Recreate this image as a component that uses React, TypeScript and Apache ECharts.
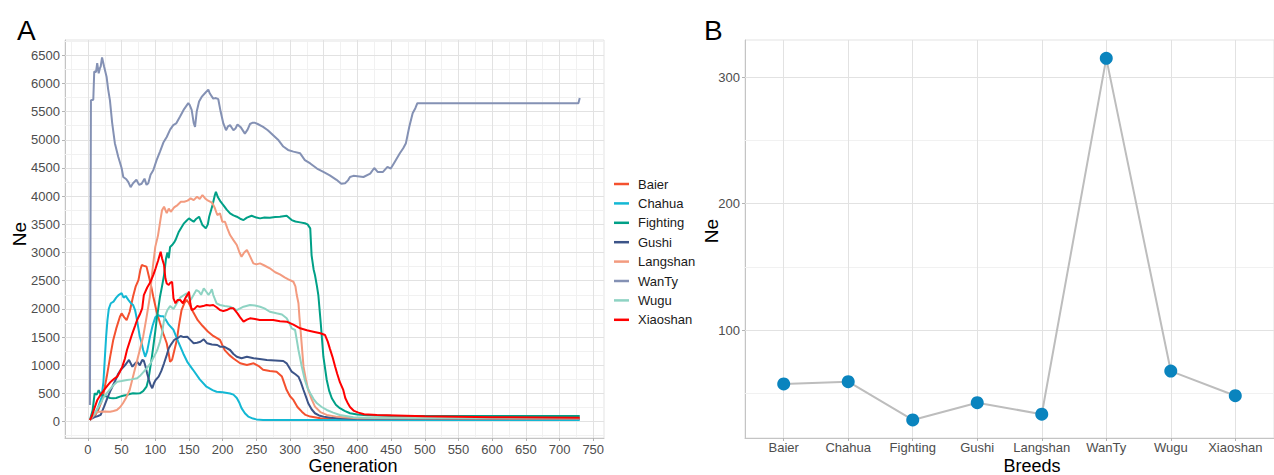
import React, { useEffect, useRef } from "react";
import * as echarts from "echarts";

const FONT = "'Liberation Sans', Arial, sans-serif";

const breeds = ["Baier", "Chahua", "Fighting", "Gushi", "Langshan", "WanTy", "Wugu", "Xiaoshan"];
const breedColors = ["#F4512F", "#13B8D4", "#00A087", "#3C5488", "#F39B7F", "#8491B4", "#8ED3C3", "#FF0000"];

const genTicks = [0, 50, 100, 150, 200, 250, 300, 350, 400, 450, 500, 550, 600, 650, 700, 750];
const genMinor = [-25, 25, 75, 125, 175, 225, 275, 325, 375, 425, 475, 525, 575, 625, 675, 725];
const neTicks = [0, 500, 1000, 1500, 2000, 2500, 3000, 3500, 4000, 4500, 5000, 5500, 6000, 6500];
const neMinor = [-250, 250, 750, 1250, 1750, 2250, 2750, 3250, 3750, 4250, 4750, 5250, 5750, 6250, 6750];

const breedNe = [57.4, 59.2, 29.0, 42.6, 33.5, 314.8, 67.6, 48.1];
const breedIdx = [0, 1, 2, 3, 4, 5, 6, 7];
const breedNeTicks = [100, 200, 300];
const breedNeMinor = [50, 150, 250];

const baier = [[3,30],[10,100],[15,200],[20,350],[24,550],[28,800],[33,1150],[37.6,1450],[42,1650],[47.5,1860],[50,1920],[54,1850],[57.5,1800],[62,1950],[67,2220],[71,2400],[75,2510],[78,2700],[80,2780],[84,2760],[87,2750],[90,2600],[93,2450],[97,2220],[102,1950],[107,1750],[112,1560],[117,1390],[120,1200],[122,1060],[125,1100],[128,1250],[132,1450],[135,1700],[139,1980],[143,2100],[146.6,2160],[150,2100],[156,1950],[163,1800],[170,1700],[178,1600],[186,1520],[196,1450],[203,1270],[210,1180],[216,1120],[226,1035],[236,1005],[246,1035],[253,990],[260,920],[270,900],[280,887],[288,800],[295,560],[300,450],[305,385],[311,260],[317.5,177],[323,120],[330,90],[345,60],[360,50],[730,50]];

const chahua = [[3,30],[10,120],[15,250],[20,420],[23,700],[25,1100],[27,1500],[29,1800],[31,2000],[34,2100],[38,2130],[42,2200],[46,2250],[50,2280],[53,2200],[56,2230],[60,2160],[64,2100],[67,2070],[70,1980],[72,1860],[75,1650],[77,1510],[80,1380],[82,1270],[85,1150],[88,1250],[92,1500],[96,1700],[100,1850],[104,1890],[108,1870],[112,1870],[116,1800],[120,1720],[127,1630],[134,1420],[141.5,1210],[148,1050],[156,920],[166,750],[176,620],[185,560],[191,530],[200,520],[211,500],[216,480],[221,420],[225,330],[228,240],[233,150],[238,90],[245,55],[250,40],[260,30],[730,30]];

const fighting = [[3,30],[7,200],[10,500],[13,480],[16,560],[19,480],[22,470],[28,444],[33,420],[37.6,415],[42,420],[47.5,444],[52,460],[57.5,473],[62,490],[67,503],[72,500],[77,503],[82,540],[87,621],[90,760],[92,917],[95,1150],[97,1330],[100,1600],[102,1803],[105,2050],[107,2216],[110,2400],[113,2600],[116,2900],[118,3000],[120,2900],[122,3100],[125,3133],[128,3180],[130,3222],[135,3369],[139,3450],[142.6,3518],[146,3560],[150,3606],[153,3580],[157,3546],[161,3600],[165,3635],[170,3488],[175,3429],[178,3500],[180,3635],[183,3760],[185,3842],[188,4000],[190,4078],[193,3980],[197,3901],[201,3842],[206,3760],[211,3695],[216,3660],[221,3635],[226,3600],[231,3576],[236,3620],[243,3652],[250,3620],[255.5,3606],[262,3620],[270,3617],[278,3630],[285,3635],[295,3652],[302.5,3576],[308,3550],[315,3535],[322,3520],[326,3500],[330,3429],[332,2950],[335,2700],[337,2601],[340,2400],[342,2246],[345.6,1745],[349.5,1152],[354.5,739],[358,550],[362,415],[368,300],[374,238],[381,190],[389,149],[400,125],[414,115],[450,105],[730,100]];

const gushi = [[3,40],[10,80],[15,100],[19,119],[24,266],[29,420],[34,562],[41,739],[45,850],[48.5,917],[55,1000],[61,1094],[66,975],[70,1030],[73,1064],[77,1000],[80.6,1094],[83,1080],[85.6,975],[88,850],[90.6,739],[93,650],[95.5,592],[98,680],[100.5,739],[105,798],[109,900],[113,1035],[117,1180],[120,1301],[124,1380],[128,1449],[133,1480],[137.6,1520],[142,1500],[147.5,1507],[152,1450],[157,1390],[162,1400],[167,1418],[172,1461],[177,1390],[184,1370],[192,1360],[196,1330],[202,1330],[211,1271],[216,1200],[221,1152],[228,1124],[236,1152],[246,1124],[255,1110],[265.5,1094],[278,1085],[290,1076],[295,1035],[302.5,887],[308,840],[312.5,798],[316,700],[320,562],[324,430],[327,326],[332,220],[337,149],[343,110],[349.5,89],[360,70],[374,60],[400,50],[730,45]];

const langshan = [[3,30],[8,100],[13,170],[18,177],[25,180],[33,177],[38,190],[43,207],[48,260],[52,326],[57,430],[62,562],[67,800],[72,1035],[77,1270],[82,1507],[87,1850],[92,2216],[95,2600],[97,2808],[100,3100],[104,3300],[108,3606],[110,3750],[113,3812],[117,3700],[120,3780],[123,3723],[128,3800],[133,3842],[138,3900],[143,3901],[148,3920],[152.5,3961],[157,3930],[162,3990],[166,3950],[170,4020],[174,3960],[177,3931],[182,3900],[185,3872],[188,3800],[192,3665],[196,3695],[199.5,3546],[203.5,3546],[207,3430],[211,3310],[216,3220],[221,3133],[225,3000],[228,2926],[232,3000],[236,3044],[240,2950],[245.5,2808],[250,2790],[255.5,2808],[262,2770],[270,2720],[278,2650],[285,2613],[292,2560],[297.5,2525],[305,2482],[308,2400],[310,2246],[312.5,2100],[314,1850],[316,1567],[320,975],[324,720],[327,562],[332,400],[337,266],[345,170],[354.5,119],[370,85],[379,78],[400,60],[730,55]];

const wanty = [[3,296],[4.5,5700],[8,5710],[9.4,6210],[12,6200],[13.8,6360],[16,6180],[17.8,6270],[19,6300],[21,6460],[24,6300],[27.7,6120],[30,5900],[32.7,5700],[36,5300],[40,4940],[45,4700],[50,4500],[52.5,4340],[57,4300],[60,4250],[63.4,4160],[67,4230],[72,4290],[76,4200],[79.7,4220],[84,4310],[87,4200],[89.6,4230],[93,4380],[97,4460],[102,4640],[107,4790],[112,4950],[117,5050],[122,5180],[126.7,5260],[131,5290],[136.6,5410],[142,5530],[149,5650],[151,5620],[154,5530],[157,5300],[159,5230],[161.5,5500],[165,5680],[168.8,5760],[174,5830],[178.7,5890],[181,5820],[186,5730],[190,5740],[193.5,5720],[197,5500],[201,5290],[205,5170],[208,5240],[211,5260],[216,5170],[219,5200],[222,5270],[227,5220],[233,5110],[237,5180],[240.6,5280],[244,5300],[248,5300],[252,5280],[260,5230],[267,5170],[275,5080],[283,4990],[290,4880],[297,4820],[305,4790],[315,4760],[322,4640],[330,4580],[340,4490],[349.5,4430],[359,4370],[369,4290],[376,4220],[381.7,4230],[386,4280],[389,4340],[394,4360],[409,4340],[419,4400],[425,4500],[430,4430],[438,4430],[444.6,4520],[449.5,4490],[454.5,4590],[463,4760],[468,4850],[472,4940],[477,5230],[482,5470],[486,5560],[489,5650],[728,5650],[730,5740]];

const wugu = [[3,35],[10,150],[15,250],[20,350],[24,444],[29,520],[34,592],[39,660],[43.5,709],[50,720],[58,739],[65,750],[73,769],[78,820],[83,887],[88,960],[93,1035],[98,1150],[103,1271],[107,1420],[110,1567],[113,1803],[116,1920],[118,1980],[122,2050],[127,2000],[132,2100],[137,2200],[142.6,2246],[146.6,2276],[150,2200],[152.5,2158],[157,2250],[161,2335],[165,2305],[168,2250],[172,2365],[176,2300],[179,2250],[182,2300],[184,2350],[186,2250],[191,2099],[196,2069],[203,2050],[211,2039],[216,2010],[221,1980],[226,2010],[231,2039],[240.6,2069],[248,2060],[255.5,2039],[262,2010],[270,1950],[280,1922],[288,1900],[295,1833],[299,1750],[302.5,1656],[307.5,1626],[310,1450],[312.5,1271],[317.5,975],[322,739],[326,600],[330,503],[335,400],[340,326],[347,260],[354.5,207],[364,160],[374,119],[394,78],[420,65],[730,60]];

const xiaoshan = [[3,30],[6,100],[10,250],[14,385],[19,480],[24,562],[29,640],[34,709],[39,760],[43.5,798],[47,870],[51,975],[55,1120],[58,1271],[62,1420],[66,1567],[70,1700],[73,1803],[77,1900],[80.6,2010],[83,2246],[88,2380],[93,2482],[97,2600],[100.5,2720],[104,2850],[108,3014],[110,2900],[113,2778],[115,2542],[117,2450],[120,2424],[122,2460],[125,2482],[127,2188],[130,2100],[133,2158],[137,2158],[141,2100],[145,2200],[149,2276],[150,2305],[152,2100],[154,1980],[158,2000],[162,2050],[166,2039],[171,2050],[176,2069],[181,2060],[186,2069],[191,2030],[196,1980],[201,1960],[206,1980],[211,2010],[216,2010],[222,1920],[226,1850],[231,1773],[236,1810],[240.6,1833],[248,1820],[255,1803],[265.5,1803],[275,1803],[285,1780],[295,1773],[305,1720],[315,1656],[325,1620],[334.6,1596],[345,1567],[352,1537],[356,1420],[359,1300],[363,1150],[367,975],[370,850],[374,700],[379,562],[382,420],[386,320],[389,260],[395,190],[401.5,160],[410,130],[429,119],[500,95],[600,80],[730,70]];

const seriesData = [baier, chahua, fighting, gushi, langshan, wanty, wugu, xiaoshan];

function gridLines(idx: number, xs: number[], ys: number[], color: string, width: number) {
  return {
    type: "line",
    xAxisIndex: idx,
    yAxisIndex: idx,
    data: [],
    silent: true,
    z: 1,
    markLine: {
      z: 1,
      silent: true,
      symbol: ["none", "none"],
      label: { show: false },
      emphasis: { disabled: true },
      animation: false,
      lineStyle: { color, width, type: "solid" },
      data: [...xs.map((v) => ({ xAxis: v })), ...ys.map((v) => ({ yAxis: v }))],
    },
  };
}

const labelStyle = { fontSize: 13, lineHeight: 13, color: "#4D4D4D", fontFamily: FONT };
const plain = (v: number) => String(v);

export default function App() {
  const ref = useRef<HTMLDivElement>(null);
  useEffect(() => {
    if (!ref.current) return;
    const chart = echarts.init(ref.current, null, { renderer: "svg" });
    const titleStyle = { fontSize: 18, lineHeight: 17, fontFamily: FONT, fill: "#000", align: "center", verticalAlign: "middle" };
    const option: any = {
      animation: false,
      backgroundColor: "#ffffff",
      textStyle: { fontFamily: FONT },
      grid: [
        { left: 65, right: 670, top: 40, bottom: 37, show: true, borderColor: "#e3e3e3", borderWidth: 1, backgroundColor: "transparent" },
        { left: 745, right: -9, top: 40, bottom: 37, show: true, borderColor: "#e3e3e3", borderWidth: 1, backgroundColor: "transparent" },
      ],
      xAxis: [
        {
          type: "value", gridIndex: 0, min: -34, max: 766,
          axisLine: { show: true, onZero: false, lineStyle: { color: "#c4c4c4", width: 1 } },
          axisTick: { show: true, customValues: genTicks, length: 3, lineStyle: { color: "#b3b3b3" } },
          axisLabel: { ...labelStyle, customValues: genTicks, margin: 5, formatter: plain },
          splitLine: { show: false },
        },
        {
          type: "value", gridIndex: 1, min: -0.6, max: 7.6,
          axisLine: { show: true, onZero: false, lineStyle: { color: "#c4c4c4", width: 1 } },
          axisTick: { show: true, customValues: breedIdx, length: 3, lineStyle: { color: "#b3b3b3" } },
          axisLabel: { ...labelStyle, customValues: breedIdx, margin: 3, formatter: (v: number) => breeds[Math.round(v)] },
          splitLine: { show: false },
        },
      ],
      yAxis: [
        {
          type: "value", gridIndex: 0, min: -290, max: 6770,
          axisLine: { show: true, onZero: false, lineStyle: { color: "#c4c4c4", width: 1 } },
          axisTick: { show: true, customValues: neTicks, length: 3, lineStyle: { color: "#b3b3b3" } },
          axisLabel: { ...labelStyle, customValues: neTicks, margin: 5, formatter: plain },
          splitLine: { show: false },
        },
        {
          type: "value", gridIndex: 1, min: 14.7, max: 329.3,
          axisLine: { show: true, onZero: false, lineStyle: { color: "#c4c4c4", width: 1 } },
          axisTick: { show: true, customValues: breedNeTicks, length: 3, lineStyle: { color: "#b3b3b3" } },
          axisLabel: { ...labelStyle, customValues: breedNeTicks, margin: 5, formatter: plain },
          splitLine: { show: false },
        },
      ],
      legend: {
        data: breeds.map((name) => ({ name, icon: "rect" })),
        orient: "vertical",
        left: 609,
        top: 172,
        itemWidth: 15,
        itemHeight: 2.5,
        itemGap: 5.4,
        selectedMode: false,
        textStyle: { fontSize: 13, color: "#1a1a1a", fontFamily: FONT, lineHeight: 14, padding: [0, 0, 0, 4] },
      },
      graphic: [
        { type: "text", left: 17, top: 16, style: { text: "A", fontSize: 28, fontFamily: FONT, fill: "#000" } },
        { type: "text", left: 704, top: 16, style: { text: "B", fontSize: 28, fontFamily: FONT, fill: "#000" } },
        { type: "text", x: 353, y: 466, style: { ...titleStyle, text: "Generation" } },
        { type: "text", x: 1032, y: 466, style: { ...titleStyle, text: "Breeds" } },
        { type: "text", x: 19, y: 234, rotation: Math.PI / 2, style: { ...titleStyle, fontSize: 19, lineHeight: 19, text: "Ne" } },
        { type: "text", x: 711, y: 231, rotation: Math.PI / 2, style: { ...titleStyle, fontSize: 19, lineHeight: 19, text: "Ne" } },
      ],
      series: [
        gridLines(0, genMinor, neMinor, "#f1f1f1", 1),
        gridLines(0, genTicks, neTicks, "#e2e2e2", 1),
        gridLines(1, [], breedNeMinor, "#f1f1f1", 1),
        gridLines(1, breedIdx, breedNeTicks, "#e2e2e2", 1),
        ...breeds.map((name, i) => ({
          name,
          type: "line",
          xAxisIndex: 0,
          yAxisIndex: 0,
          data: seriesData[i],
          showSymbol: false,
          symbol: "none",
          color: breedColors[i],
          lineStyle: { color: breedColors[i], width: 2 },
          z: 3,
          silent: true,
        })),
        {
          name: "breedNe",
          type: "line",
          xAxisIndex: 1,
          yAxisIndex: 1,
          data: breedIdx.map((i) => [i, breedNe[i]]),
          symbol: "circle",
          symbolSize: 13,
          showSymbol: true,
          itemStyle: { color: "#0A84BE" },
          lineStyle: { color: "#BDBDBD", width: 2 },
          z: 3,
          silent: true,
        },
      ],
    };
    chart.setOption(option);
    return () => chart.dispose();
  }, []);
  return <div ref={ref} style={{ position: "fixed", left: 0, top: 0, width: 1274, height: 475 }} />;
}
